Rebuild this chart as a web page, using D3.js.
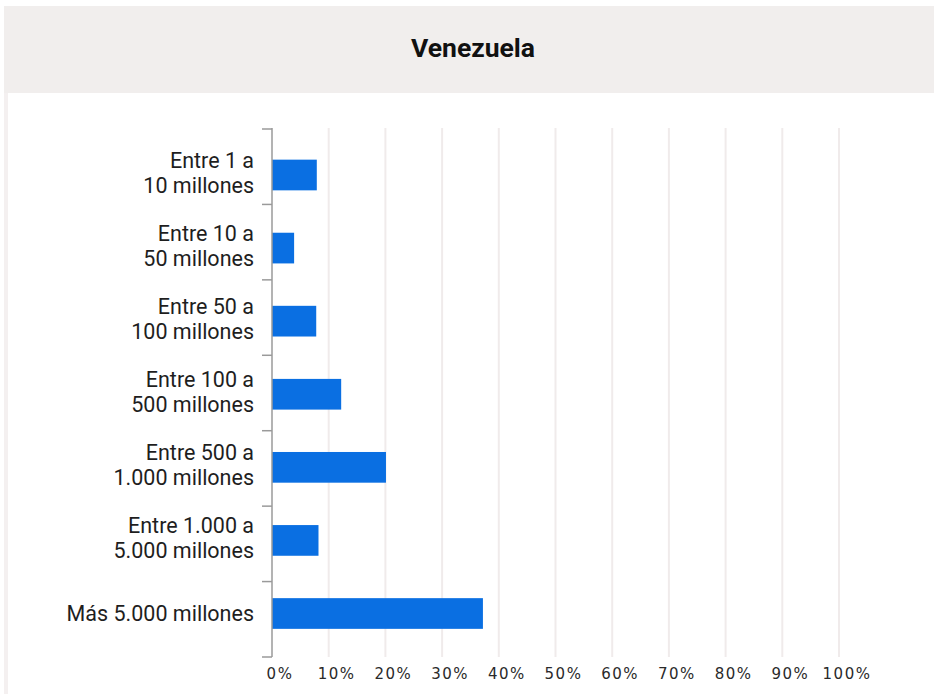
<!DOCTYPE html>
<html>
<head>
<meta charset="utf-8">
<script src="https://cdn.jsdelivr.net/npm/d3@7"></script>
<style>
  html, body { margin: 0; padding: 0; background: #fff; }
  svg { display: block; }
</style>
</head>
<body>
<svg id="chart" width="934" height="694"></svg>
<script>
// chart data
var title = "Venezuela";
var categories = [
  "Entre 1 a 10 millones",
  "Entre 10 a 50 millones",
  "Entre 50 a 100 millones",
  "Entre 100 a 500 millones",
  "Entre 500 a 1.000 millones",
  "Entre 1.000 a 5.000 millones",
  "Más 5.000 millones"
];
var labelLines = [
  ["Entre 1 a", "10 millones"],
  ["Entre 10 a", "50 millones"],
  ["Entre 50 a", "100 millones"],
  ["Entre 100 a", "500 millones"],
  ["Entre 500 a", "1.000 millones"],
  ["Entre 1.000 a", "5.000 millones"],
  ["Más 5.000 millones"]
];
var values = [7.9, 3.9, 7.8, 12.2, 20.1, 8.2, 37.2];
var xTicks = [0, 10, 20, 30, 40, 50, 60, 70, 80, 90, 100];

var svg = d3.select("#chart");

var plotLeft = 272, plotRight = 839;
var plotTop = 128, plotBottom = 657;

// header band + left border
svg.append("rect")
  .attr("x", 4).attr("y", 6)
  .attr("width", 930).attr("height", 87)
  .attr("fill", "#f1eeed");

svg.append("rect")
  .attr("x", 4).attr("y", 93)
  .attr("width", 4).attr("height", 601)
  .attr("fill", "#f4f0f0");

svg.append("text")
  .attr("x", 473).attr("y", 57)
  .attr("text-anchor", "middle")
  .attr("font-family", "Roboto, sans-serif")
  .attr("font-weight", "bold")
  .attr("font-size", "26.5px")
  .attr("fill", "#111")
  .text(title);

var x = d3.scaleLinear()
  .domain([0, 100])
  .range([plotLeft, plotRight]);

// bar centres
var y = d3.scalePoint()
  .domain(categories)
  .range([175, 613.5]);

var barHeight = y.step() * 0.42;

// tick marks on the category axis
var tickScale = d3.scaleLinear()
  .domain([0, categories.length])
  .range([plotTop + 1, plotBottom]);

// gridlines
svg.append("g")
  .selectAll("line")
  .data(xTicks.filter(d => d > 0))
  .enter()
  .append("line")
  .attr("x1", d => x(d)).attr("x2", d => x(d))
  .attr("y1", plotTop).attr("y2", plotBottom)
  .attr("stroke", "#f0ebeb")
  .attr("stroke-width", 2);

// x tick labels
svg.append("g")
  .selectAll("text")
  .data(xTicks)
  .enter()
  .append("text")
  .attr("x", d => x(d) + 8)
  .attr("y", 679)
  .attr("text-anchor", "middle")
  .attr("font-family", "'DejaVu Sans', sans-serif")
  .attr("font-size", "15px")
  .attr("letter-spacing", "1.5px")
  .attr("fill", "#2a2a2a")
  .text(d => d + "%");

// bars
svg.append("g")
  .selectAll("rect")
  .data(values)
  .enter()
  .append("rect")
  .attr("x", x(0))
  .attr("y", (d, i) => y(categories[i]) - barHeight / 2)
  .attr("width", d => x(d) - x(0))
  .attr("height", barHeight)
  .attr("fill", "#0a6fe2");

// category axis line and ticks
svg.append("line")
  .attr("x1", plotLeft).attr("x2", plotLeft)
  .attr("y1", plotTop).attr("y2", plotBottom)
  .attr("stroke", "#9a9a9a")
  .attr("stroke-width", 1.5);

svg.append("g")
  .selectAll("line")
  .data(d3.range(categories.length + 1))
  .enter()
  .append("line")
  .attr("x1", plotLeft - 10).attr("x2", plotLeft)
  .attr("y1", d => tickScale(d)).attr("y2", d => tickScale(d))
  .attr("stroke", "#9a9a9a")
  .attr("stroke-width", 1.5);

// category labels
var labels = svg.append("g")
  .selectAll("text")
  .data(categories)
  .enter()
  .append("text")
  .attr("text-anchor", "end")
  .attr("font-family", "Roboto, sans-serif")
  .attr("font-size", "21.5px")
  .attr("fill", "#1e1e1e");

labels.each(function(d, i) {
  var lines = labelLines[i];
  var cy = y(d);
  var first = lines.length == 1 ? cy + 7 : cy - 7;
  d3.select(this)
    .selectAll("tspan")
    .data(lines)
    .enter()
    .append("tspan")
    .attr("x", 254)
    .attr("y", (_, k) => first + k * 25)
    .text(t => t);
});
</script>
</body>
</html>
